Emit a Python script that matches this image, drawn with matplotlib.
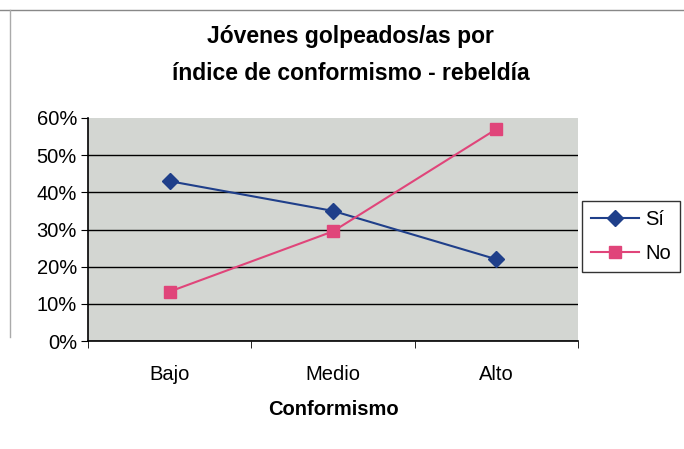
import numpy as np
import matplotlib.pyplot as plt
from matplotlib.ticker import FuncFormatter, FixedLocator
from matplotlib.lines import Line2D

categorias = ["Bajo", "Medio", "Alto"]
si = [0.43, 0.35, 0.22]
no = [0.133, 0.295, 0.57]

plt.rcParams['font.family'] = ['Liberation Sans', 'DejaVu Sans']

fig = plt.figure(figsize=(6.84, 4.49), dpi=100)
ax = fig.add_axes([0.1287, 0.2405, 0.7163, 0.4967])
ax.set_facecolor('#d3d6d2')

x = np.arange(len(categorias))
ax.plot(x, si, color='#1f3f8a', marker='D', markersize=8, lw=1.5, label='Sí')
ax.plot(x, no, color='#e0457a', marker='s', markersize=9, lw=1.5, label='No')

ax.set_xlim(-0.5, len(categorias) - 0.5)
ax.set_ylim(0, 0.6)
ax.set_yticks(np.arange(0, 0.61, 0.1))
ax.yaxis.set_major_formatter(FuncFormatter(lambda v, _: f"{v*100:.0f}%"))
ax.grid(axis='y', color='black', lw=1.0)
ax.get_ygridlines()[-1].set_visible(False)
ax.set_axisbelow(True)

ax.set_xticks(x)
ax.set_xticklabels(categorias)
ax.xaxis.set_minor_locator(FixedLocator(np.arange(-0.5, len(categorias), 1.0)))
ax.tick_params(axis='x', which='major', length=0, pad=17, labelsize=14.5)
ax.tick_params(axis='x', which='minor', length=5, direction='out')
ax.tick_params(axis='y', length=5, direction='out', labelsize=14.5, pad=3)

for side in ['top', 'right']:
    ax.spines[side].set_visible(False)
ax.spines['left'].set_linewidth(1.2)
ax.spines['bottom'].set_linewidth(1.2)

ax.set_xlabel("Conformismo", fontsize=14.5, fontweight='bold', labelpad=12)
fig.text(0.513, 0.878, "Jóvenes golpeados/as por\níndice de conformismo - rebeldía",
         ha='center', va='center', fontsize=16.5, fontweight='bold', linespacing=1.75)

leg = ax.legend(loc='center left', bbox_to_anchor=(1.0, 0.47), frameon=True,
                fancybox=False, edgecolor='black', fontsize=14.5, handlelength=2.4,
                handletextpad=0.3, borderpad=0.45, borderaxespad=0.2, labelspacing=0.75)
leg.get_frame().set_linewidth(1.0)

# thin outer frame of the chart area (top and left edges)
fig.add_artist(Line2D([0.0, 1.0], [0.978, 0.978], color='#888888', lw=1.0))
fig.add_artist(Line2D([0.015, 0.015], [0.25, 0.978], color='#aaaaaa', lw=1.0))

fig.savefig('out.png', dpi=100)
